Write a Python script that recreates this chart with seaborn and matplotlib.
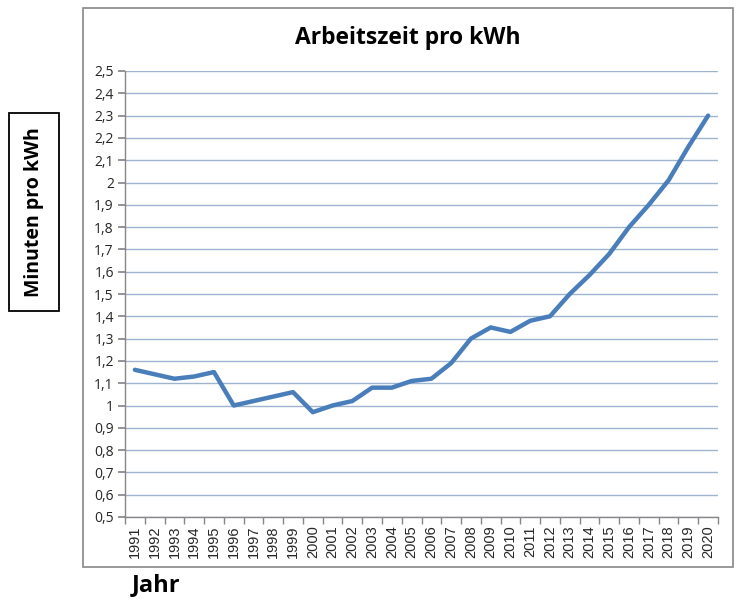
import numpy as np
import pandas as pd
import matplotlib
matplotlib.use("Agg")
import matplotlib.pyplot as plt
import seaborn as sns
from matplotlib.patches import Rectangle
from matplotlib.ticker import FuncFormatter, FixedLocator

years = list(range(1991, 2021))
minutes = [1.16, 1.14, 1.12, 1.13, 1.15, 1.00, 1.02, 1.04, 1.06, 0.97,
           1.00, 1.02, 1.08, 1.08, 1.11, 1.12, 1.19, 1.30, 1.35, 1.33,
           1.38, 1.40, 1.50, 1.585, 1.68, 1.80, 1.90, 2.01, 2.16, 2.30]
title = "Arbeitszeit pro kWh"
ylabel = "Minuten pro kWh"
xlabel = "Jahr"

df = pd.DataFrame({"Jahr": years, "Minuten": minutes})

sns.set_theme(style="white")
plt.rcParams['font.family'] = ['Open Sans', 'DejaVu Sans']

fig = plt.figure(figsize=(7.4, 6.06), dpi=100)
ax = fig.add_axes([125/740, 1-517/606, (718-125)/740, (517-71)/606])

sns.lineplot(data=df, x="Jahr", y="Minuten", ax=ax, color="#4A7EBB", linewidth=3.2)

ax.set_xlim(years[0]-0.5, years[-1]+0.5)
ax.set_ylim(0.5, 2.5)
yt = np.round(np.arange(0.5, 2.51, 0.1), 1)
ax.set_yticks(yt)
ax.yaxis.set_major_formatter(FuncFormatter(lambda v, p: ("%g" % round(v, 1)).replace(".", ",")))
ax.grid(axis="y", color="#9DB3CF", linewidth=1.0)
ax.set_axisbelow(True)

ax.set_xticks(years)
ax.set_xticklabels([str(y) for y in years], rotation=90, family="Liberation Sans", fontsize=10.5)
ax.xaxis.set_minor_locator(FixedLocator(np.arange(years[0]-0.5, years[-1]+1, 1)))
ax.tick_params(axis="x", which="major", length=0, pad=6)
ax.tick_params(axis="x", which="minor", length=5, color="#868686", direction="out", bottom=True)
ax.tick_params(axis="y", which="major", length=5, color="#868686", direction="out", left=True, labelsize=10, pad=3)
for lab in ax.get_yticklabels():
    lab.set_family("Open Sans")

for s in ["top", "right"]:
    ax.spines[s].set_visible(False)
for s in ["left", "bottom"]:
    ax.spines[s].set_color("#868686")
    ax.spines[s].set_linewidth(1.0)
ax.set_xlabel("")
ax.set_ylabel("")

fig.patches.append(Rectangle((83/740, 1-567/606), (733-83)/740, (567-8)/606,
                             transform=fig.transFigure, fill=False,
                             edgecolor="#868686", linewidth=1.2))

fig.text(408/740, 1-38/606, title, ha="center", va="center", fontsize=16.5,
         fontweight="bold", color="black")
fig.text(34/740, 1-212/606, ylabel, ha="center", va="center", rotation=90,
         fontsize=14, fontweight="bold", color="black",
         bbox=dict(boxstyle="square,pad=0.75", facecolor="white", edgecolor="black", linewidth=1.3))
fig.text(132/740, 1-585/606, xlabel, ha="left", va="center", fontsize=17,
         fontweight="bold", color="black")

fig.savefig("out.png", dpi=100)
